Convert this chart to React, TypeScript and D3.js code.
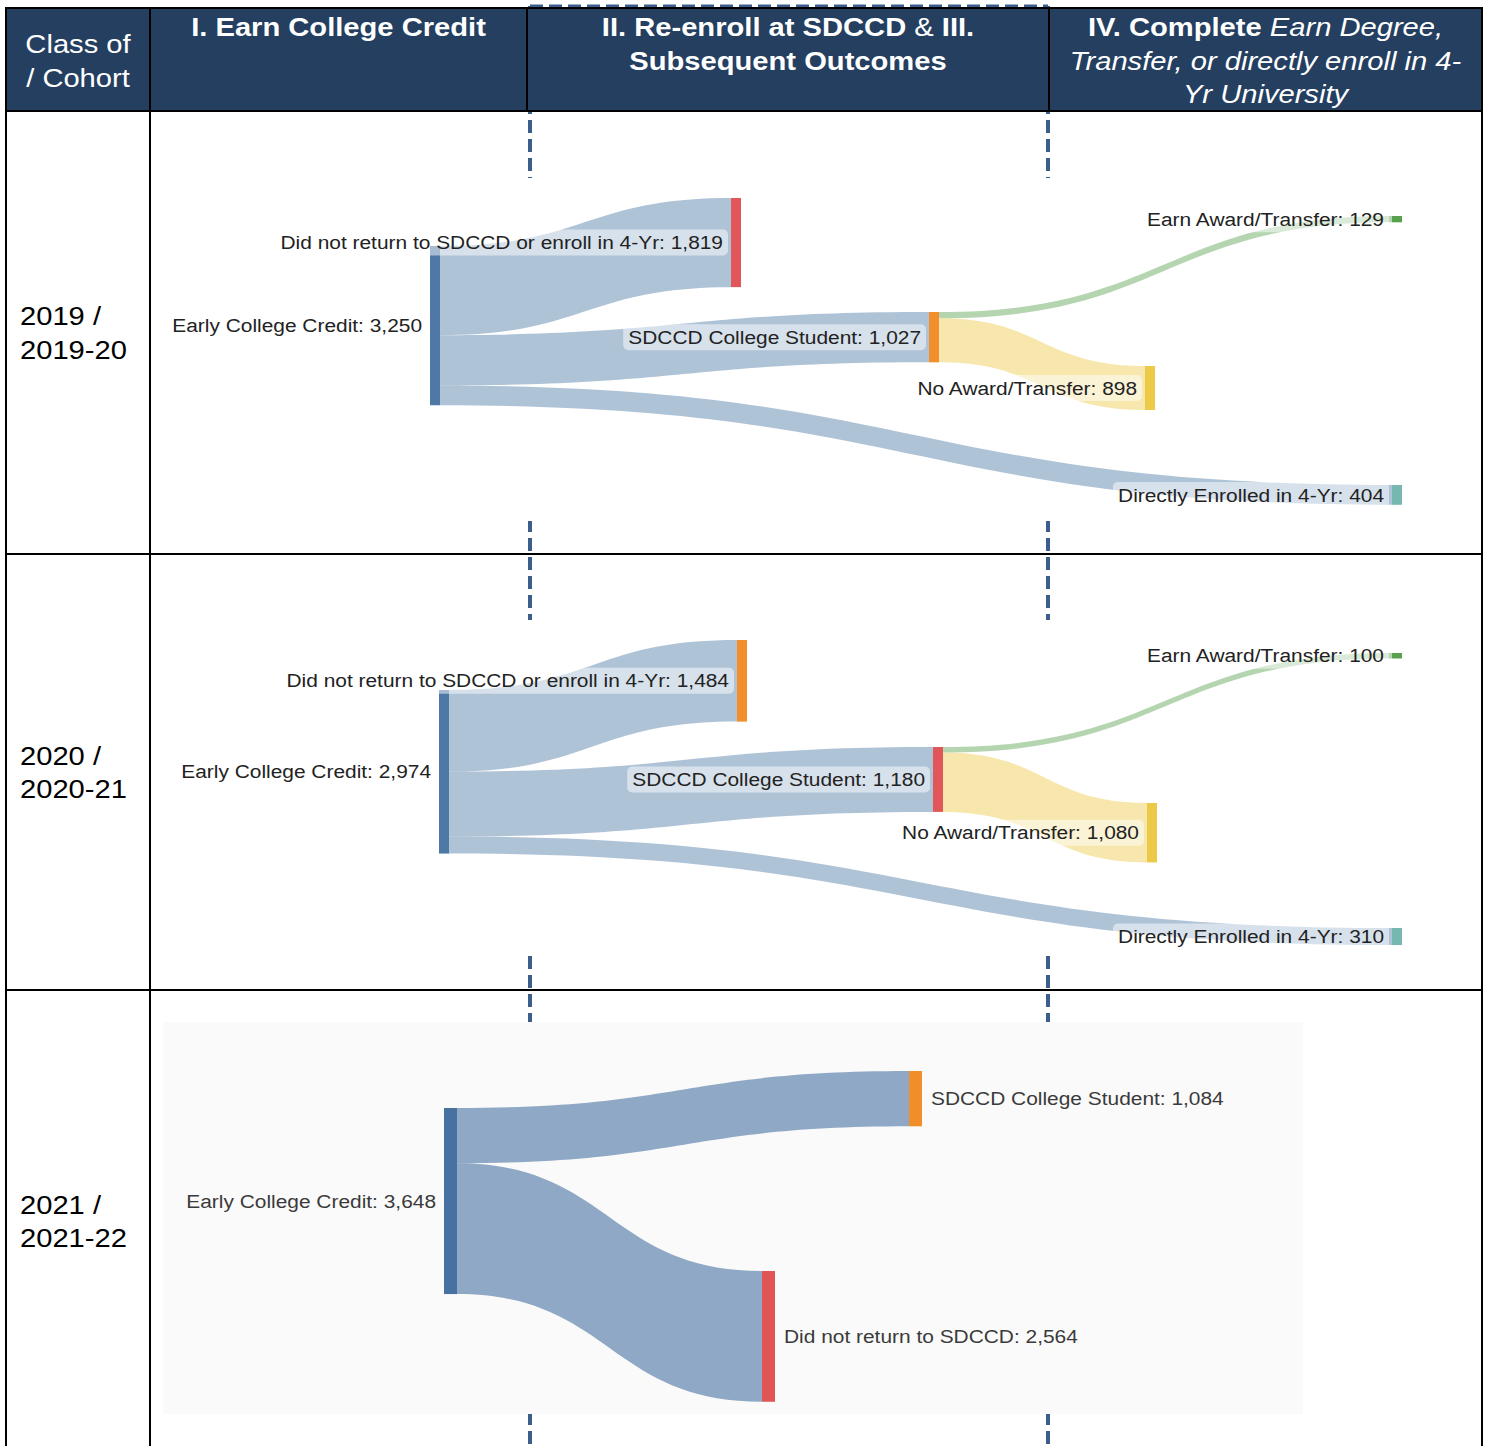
import React from "react";
import * as d3 from "d3";

// ---------- DATA ----------
const headerCohort = ["Class of", "/ Cohort"];
const headerStage1 = ["I. Earn College Credit"];
const headerStage23 = ["II. Re-enroll at SDCCD & III.", "Subsequent Outcomes"];
const headerStage4Bold = "IV. Complete ";
const headerStage4Italic = ["Earn Degree,", "Transfer, or directly enroll in 4-", "Yr University"];

const cohortLabels = [
  ["2019 /", "2019-20"],
  ["2020 /", "2020-21"],
  ["2021 /", "2021-22"],
];

const nodes2019 = [
  { id: "ecc", name: "Early College Credit", value: 3250 },
  { id: "dnr", name: "Did not return to SDCCD or enroll in 4-Yr", value: 1819 },
  { id: "sdccd", name: "SDCCD College Student", value: 1027 },
  { id: "earn", name: "Earn Award/Transfer", value: 129 },
  { id: "noaward", name: "No Award/Transfer", value: 898 },
  { id: "direct", name: "Directly Enrolled in 4-Yr", value: 404 },
];
const links2019 = [
  { source: "ecc", target: "dnr", value: 1819 },
  { source: "ecc", target: "sdccd", value: 1027 },
  { source: "ecc", target: "direct", value: 404 },
  { source: "sdccd", target: "earn", value: 129 },
  { source: "sdccd", target: "noaward", value: 898 },
];

const nodes2020 = [
  { id: "ecc", name: "Early College Credit", value: 2974 },
  { id: "dnr", name: "Did not return to SDCCD or enroll in 4-Yr", value: 1484 },
  { id: "sdccd", name: "SDCCD College Student", value: 1180 },
  { id: "earn", name: "Earn Award/Transfer", value: 100 },
  { id: "noaward", name: "No Award/Transfer", value: 1080 },
  { id: "direct", name: "Directly Enrolled in 4-Yr", value: 310 },
];
const links2020 = [
  { source: "ecc", target: "dnr", value: 1484 },
  { source: "ecc", target: "sdccd", value: 1180 },
  { source: "ecc", target: "direct", value: 310 },
  { source: "sdccd", target: "earn", value: 100 },
  { source: "sdccd", target: "noaward", value: 1080 },
];

const nodes2021 = [
  { id: "ecc", name: "Early College Credit", value: 3648 },
  { id: "sdccd", name: "SDCCD College Student", value: 1084 },
  { id: "dnr", name: "Did not return to SDCCD", value: 2564 },
];
const links2021 = [
  { source: "ecc", target: "sdccd", value: 1084 },
  { source: "ecc", target: "dnr", value: 2564 },
];

// ---------- LAYOUT & STYLE ----------
const W = 1488;
const H = 1446;
const FONT = "'Liberation Sans', Arial, Helvetica, sans-serif";
const SX = 1.1; // horizontal stretch of the original picture
const HEADER_BG = "#243F60";
const DASH = "#3B5E8C";

const table = { x0: 6, x1: 1482, y0: 8, headerBottom: 111, rows: [111, 554, 990, 1452], colCohort: 150, cols: [527, 1049] };
const dashed = { x0: 530, x1: 1048, top: 6 };

const BLUE = "#4E79A7", RED = "#E15759", ORANGE = "#F28E2B", YELLOW = "#EDC948", GREEN = "#59A14F", TEAL = "#76B7B2";

const layout2019 = {
  bg: { x: 152, y: 178, w: 1328, h: 343, fill: "#ffffff" },
  k: 0.049, w: 10, fontSize: 19, textFill: "#222222", box: true,
  pos: { ecc: [430, 246], dnr: [731, 198], sdccd: [929, 312], earn: [1392, 216], noaward: [1145, 366], direct: [1392, 485] },
  side: { ecc: "left", dnr: "left", sdccd: "left", earn: "left", noaward: "left", direct: "left" },
  colors: { ecc: BLUE, dnr: RED, sdccd: ORANGE, earn: GREEN, noaward: YELLOW, direct: TEAL },
  linkColor: { dnr: BLUE, sdccd: BLUE, direct: BLUE, earn: GREEN, noaward: YELLOW },
  linkOpacity: 0.45,
};
const layout2020 = {
  bg: { x: 152, y: 620, w: 1328, h: 336, fill: "#ffffff" },
  k: 0.055, w: 10, fontSize: 19, textFill: "#222222", box: true,
  pos: { ecc: [439, 690], dnr: [737, 640], sdccd: [933, 747], earn: [1392, 653], noaward: [1147, 803], direct: [1392, 928] },
  side: { ecc: "left", dnr: "left", sdccd: "left", earn: "left", noaward: "left", direct: "left" },
  colors: { ecc: BLUE, dnr: ORANGE, sdccd: RED, earn: GREEN, noaward: YELLOW, direct: TEAL },
  linkColor: { dnr: BLUE, sdccd: BLUE, direct: BLUE, earn: GREEN, noaward: YELLOW },
  linkOpacity: 0.45,
};
const layout2021 = {
  bg: { x: 163, y: 1022, w: 1140, h: 392, fill: "#FAFAFA" },
  k: 0.051, w: 13, fontSize: 19, textFill: "#3a3a3a", box: false,
  pos: { ecc: [444, 1108], sdccd: [909, 1071], dnr: [762, 1271] },
  side: { ecc: "left", sdccd: "right", dnr: "right" },
  colors: { ecc: "#4671A1", sdccd: "#F08E2A", dnr: "#E05556" },
  linkColor: { sdccd: "#4671A1", dnr: "#4671A1" },
  linkOpacity: 0.6,
};

const panels = [
  { nodes: nodes2019, links: links2019, layout: layout2019 },
  { nodes: nodes2020, links: links2020, layout: layout2020 },
  { nodes: nodes2021, links: links2021, layout: layout2021 },
];

const fmt = d3.format(",");

let ctx: CanvasRenderingContext2D | null = null;
function measure(t: string, font: string) {
  if (!ctx) ctx = document.createElement("canvas").getContext("2d");
  if (!ctx) return t.length * 9;
  ctx.font = font;
  return ctx.measureText(t).width;
}

function Txt({ x, y, anchor = "start", size, weight = 400, fill = "#000", style = "normal", children }: any) {
  return (
    <text
      transform={`translate(${x},${y}) scale(${SX},1)`}
      textAnchor={anchor}
      dy="0.35em"
      fontFamily={FONT}
      fontSize={size}
      fontWeight={weight}
      fontStyle={style}
      fill={fill}
    >
      {children}
    </text>
  );
}

function bandPath(x0: number, y0: number, x1: number, y1: number, t: number) {
  const p = d3.path();
  const xm = (x0 + x1) / 2;
  p.moveTo(x0, y0);
  p.bezierCurveTo(xm, y0, xm, y1, x1, y1);
  p.lineTo(x1, y1 + t);
  p.bezierCurveTo(xm, y1 + t, xm, y0 + t, x0, y0 + t);
  p.closePath();
  return p.toString();
}

function Sankey({ nodes, links, layout }: any) {
  const maxV = d3.max(nodes, (n: any) => n.value) as number;
  const hs = d3.scaleLinear().domain([0, maxV]).range([0, maxV * layout.k]);
  const map = new Map<string, any>();
  nodes.forEach((n: any) => {
    const [x, y] = layout.pos[n.id];
    map.set(n.id, { ...n, x, y, hh: hs(n.value), outOff: 0, inOff: 0 });
  });
  const linkEls = links.map((l: any, i: number) => {
    const s = map.get(l.source);
    const t = map.get(l.target);
    const th = hs(l.value);
    const x0 = s.x + layout.w;
    const y0 = s.y + s.outOff;
    s.outOff += th;
    const x1 = t.x;
    const y1 = t.y + t.inOff;
    t.inOff += th;
    return (
      <path key={"l" + i} d={bandPath(x0, y0, x1, y1, th)} fill={layout.linkColor[l.target]} fillOpacity={layout.linkOpacity} />
    );
  });
  const ns = Array.from(map.values());
  const font = `${layout.fontSize}px ${FONT}`;
  const labels = ns.map((n: any) => {
    const label = `${n.name}: ${fmt(n.value)}`;
    const cy = n.y + n.hh / 2;
    const left = layout.side[n.id] === "left";
    const tx = left ? n.x - 8 : n.x + layout.w + 9;
    const tw = measure(label, font) * SX;
    const bx = left ? tx - tw - 5 : tx - 5;
    return (
      <g key={"t" + n.id}>
        {layout.box && (
          <rect x={bx} y={cy - 13} width={tw + 10} height={26} rx={5} fill="#ffffff" fillOpacity={0.5} />
        )}
        <Txt x={tx} y={cy} anchor={left ? "end" : "start"} size={layout.fontSize} fill={layout.textFill}>
          {label}
        </Txt>
      </g>
    );
  });
  return (
    <g>
      <rect x={layout.bg.x} y={layout.bg.y} width={layout.bg.w} height={layout.bg.h} fill={layout.bg.fill} />
      {linkEls}
      {ns.map((n: any) => (
        <rect key={"n" + n.id} x={n.x} y={n.y} width={layout.w} height={Math.max(n.hh, 1)} fill={layout.colors[n.id]} />
      ))}
      {labels}
    </g>
  );
}

export default function App() {
  const { x0, x1, y0, headerBottom, rows, colCohort, cols } = table;
  const hdrSize = 26.5;
  const lh = 33.5;
  const c0 = (x0 + colCohort) / 2;
  const c1 = (colCohort + cols[0]) / 2;
  const c2 = (cols[0] + cols[1]) / 2;
  const c3 = (cols[1] + x1) / 2;
  return (
    <svg width={W} height={H} style={{ position: "absolute", left: 0, top: 0, background: "#fff" }}>
      <rect x={0} y={0} width={W} height={H} fill="#ffffff" />
      {/* dashed frame around stages II & III */}
      <g stroke={DASH} strokeWidth={4} strokeDasharray="13 6" fill="none">
        <line x1={dashed.x0} y1={dashed.top} x2={dashed.x1} y2={dashed.top} strokeWidth={3} />
        <line x1={dashed.x0} y1={dashed.top} x2={dashed.x0} y2={H + 10} />
        <line x1={dashed.x1} y1={dashed.top} x2={dashed.x1} y2={H + 10} />
      </g>
      {/* header */}
      <rect x={x0} y={y0} width={x1 - x0} height={headerBottom - y0} fill={HEADER_BG} />
      {headerCohort.map((t, i) => (
        <Txt key={t} x={c0} y={44 + i * lh} anchor="middle" size={hdrSize} fill="#fff">{t}</Txt>
      ))}
      {headerStage1.map((t, i) => (
        <Txt key={t} x={c1} y={27 + i * lh} anchor="middle" size={hdrSize} weight={700} fill="#fff">{t}</Txt>
      ))}
      <Txt x={c2} y={27} anchor="middle" size={hdrSize} weight={700} fill="#fff">
        {"II. Re-enroll at SDCCD "}
        <tspan fontWeight={400}>&amp;</tspan>
        {" III."}
      </Txt>
      <Txt x={c2} y={27 + lh} anchor="middle" size={hdrSize} weight={700} fill="#fff">{headerStage23[1]}</Txt>
      <Txt x={c3} y={27} anchor="middle" size={hdrSize} weight={700} fill="#fff">
        {headerStage4Bold}
        <tspan fontWeight={400} fontStyle="italic">{headerStage4Italic[0]}</tspan>
      </Txt>
      {headerStage4Italic.slice(1).map((t, i) => (
        <Txt key={t} x={c3} y={27 + (i + 1) * lh} anchor="middle" size={hdrSize} style="italic" fill="#fff">{t}</Txt>
      ))}
      {/* sankey panels */}
      {panels.map((p, i) => (
        <Sankey key={i} nodes={p.nodes} links={p.links} layout={p.layout} />
      ))}
      {/* cohort labels */}
      {cohortLabels.map((lines, r) => {
        const cy = (rows[r] + rows[r + 1]) / 2;
        return lines.map((t, j) => (
          <Txt key={t} x={20} y={cy - lh / 2 + j * lh} size={hdrSize}>{t}</Txt>
        ));
      })}
      {/* table borders */}
      <g stroke="#000" strokeWidth={2} fill="none">
        <rect x={x0} y={y0} width={x1 - x0} height={rows[rows.length - 1] - y0} />
        {rows.slice(0, -1).map((y) => (
          <line key={y} x1={x0} y1={y} x2={x1} y2={y} />
        ))}
        <line x1={colCohort} y1={y0} x2={colCohort} y2={rows[rows.length - 1]} />
        {cols.map((x) => (
          <line key={x} x1={x} y1={y0} x2={x} y2={headerBottom} />
        ))}
      </g>
    </svg>
  );
}
